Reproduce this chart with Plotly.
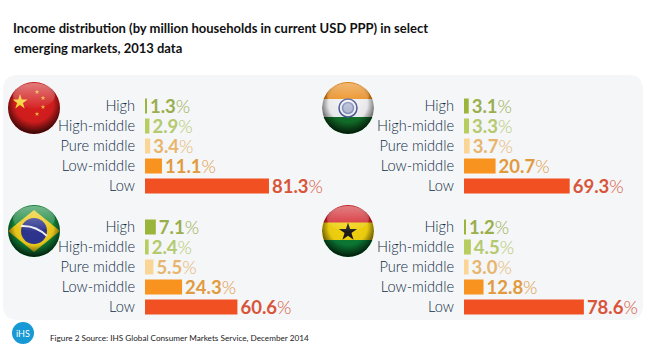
import base64, math
import plotly.graph_objects as go

W, H = 649, 364

# ---- data ----
categories = ["High", "High-middle", "Pure middle", "Low-middle", "Low"]
china = [1.3, 2.9, 3.4, 11.1, 81.3]
india = [3.1, 3.3, 3.7, 20.7, 69.3]
brazil = [7.1, 2.4, 5.5, 24.3, 60.6]
ghana = [1.2, 4.5, 3.0, 12.8, 78.6]
title_line1 = "Income distribution (by million households in current USD PPP) in select"
title_line2 = "emerging markets, 2013 data"
source_text = "Figure 2 Source: IHS Global Consumer Markets Service, December 2014"

bar_colors = ["#9bb53a", "#b7cd5f", "#fbd596", "#f7931e", "#f15022"]
text_colors = ["#9aae4c", "#b5c96e", "#e8b56e", "#e29a3f", "#d9553a"]
LABEL_FONT = "Lato"


def px(x):
    return x / W


def py(y):
    return 1 - y / H


def star(cx, cy, r, rot=-90):
    pts = []
    for i in range(10):
        rr = r if i % 2 == 0 else r * 0.382
        a = math.radians(rot + i * 36)
        pts.append(f"{cx + rr * math.cos(a):.2f},{cy + rr * math.sin(a):.2f}")
    return " ".join(pts)


def flag_svg(body):
    svg = f'''<svg xmlns="http://www.w3.org/2000/svg" width="104" height="104" viewBox="0 0 104 104">
<defs>
<clipPath id="c"><circle cx="52" cy="52" r="52"/></clipPath>
<radialGradient id="shade" cx="50%" cy="40%" r="62%">
<stop offset="0" stop-color="#000" stop-opacity="0"/>
<stop offset="0.6" stop-color="#000" stop-opacity="0.05"/>
<stop offset="1" stop-color="#000" stop-opacity="0.85"/>
</radialGradient>
<linearGradient id="gloss" x1="0" y1="0" x2="0" y2="1">
<stop offset="0" stop-color="#fff" stop-opacity="0.42"/>
<stop offset="1" stop-color="#fff" stop-opacity="0.03"/>
</linearGradient>
</defs>
<g clip-path="url(#c)">{body}
<circle cx="52" cy="52" r="52" fill="url(#shade)"/>
<ellipse cx="52" cy="27" rx="42" ry="25" fill="url(#gloss)"/>
</g></svg>'''
    return "data:image/svg+xml;base64," + base64.b64encode(svg.encode()).decode()


china_flag = flag_svg(
    '<rect width="104" height="104" fill="#d81e1e"/>'
    f'<polygon points="{star(24, 40, 16)}" fill="#ffd83a"/>'
    f'<polygon points="{star(58, 20, 5)}" fill="#f0b83a"/>'
    f'<polygon points="{star(70, 32, 5)}" fill="#f0b83a"/>'
    f'<polygon points="{star(70, 50, 5)}" fill="#f0b83a"/>'
    f'<polygon points="{star(58, 64, 5)}" fill="#f0b83a"/>'
)
india_flag = flag_svg(
    '<rect width="104" height="36" fill="#f08a10"/>'
    '<rect y="34" width="104" height="36" fill="#f4f4f6"/>'
    '<rect y="70" width="104" height="34" fill="#12702a"/>'
    '<circle cx="52" cy="52" r="18" fill="none" stroke="#4a5c9a" stroke-width="3"/>'
    '<circle cx="52" cy="52" r="11" fill="#b8bfd8" stroke="#8a94bd" stroke-width="3"/>'
)
brazil_flag = flag_svg(
    '<rect width="104" height="104" fill="#138a3c"/>'
    '<polygon points="52,10 104,52 52,94 0,52" fill="#f2cf1c"/>'
    '<circle cx="52" cy="52" r="26" fill="#2d3590"/>'
    '<path d="M26 42 Q55 40 78 62" fill="none" stroke="#f2f2f2" stroke-width="4"/>'
)
ghana_flag = flag_svg(
    '<rect width="104" height="36" fill="#d8232a"/>'
    '<rect y="35" width="104" height="35" fill="#f4d40f"/>'
    '<rect y="70" width="104" height="34" fill="#0b7a34"/>'
    f'<polygon points="{star(52, 54, 19)}" fill="#1a1a1a"/>'
)

panels = [
    ("x", "y", china, 145, 96),
    ("x2", "y2", india, 464, 96),
    ("x3", "y3", brazil, 145, 217),
    ("x4", "y4", ghana, 464, 217),
]
PX_PER_UNIT = 1.525
X_MAX = 100

fig = go.Figure()
layout_axes = {}
for xa, ya, values, left, top in panels:
    fig.add_trace(go.Bar(
        x=values, y=categories, orientation="h", xaxis=xa, yaxis=ya,
        marker=dict(color=bar_colors, line=dict(width=0)),
        text=[f"<b>{v:.1f}</b>%" for v in values],
        textposition="outside", constraintext="none", cliponaxis=False,
        textfont=dict(family=LABEL_FONT, size=18.5, color=text_colors, weight=300),
        hoverinfo="skip", showlegend=False,
    ))
    xname = "xaxis" + xa[1:]
    yname = "yaxis" + ya[1:]
    layout_axes[xname] = dict(
        domain=[px(left), px(left + PX_PER_UNIT * X_MAX)], range=[0, X_MAX],
        anchor=ya, visible=False, fixedrange=True,
    )
    layout_axes[yname] = dict(
        domain=[py(top + 100), py(top)], anchor=xa, autorange="reversed",
        type="category", categoryorder="array", categoryarray=categories,
        showgrid=False, zeroline=False, showline=False, ticks="",
        ticklabelstandoff=9, fixedrange=True,
        tickfont=dict(family=LABEL_FONT, size=14.6, color="#122c46", weight=300),
    )

images = [
    dict(source=src, xref="paper", yref="paper", x=px(cx - 26), y=py(cy - 26),
         sizex=52 / W, sizey=52 / H, xanchor="left", yanchor="top",
         sizing="stretch", layer="above")
    for src, cx, cy in [(china_flag, 34, 108), (india_flag, 348, 108),
                        (brazil_flag, 34, 231), (ghana_flag, 348, 231)]
]

x0, x1, y0, y1, r = px(3), px(643), py(75), py(320), 15
rx, ry = r / W, r / H
panel_path = (f"M {x0+rx} {y0} L {x1-rx} {y0} Q {x1} {y0} {x1} {y0-ry} "
              f"L {x1} {y1+ry} Q {x1} {y1} {x1-rx} {y1} "
              f"L {x0+rx} {y1} Q {x0} {y1} {x0} {y1+ry} "
              f"L {x0} {y0-ry} Q {x0} {y0} {x0+rx} {y0} Z")

fig.update_layout(
    width=W, height=H, autosize=False,
    margin=dict(l=0, r=0, t=0, b=0),
    paper_bgcolor="#ffffff", plot_bgcolor="rgba(0,0,0,0)",
    bargap=0.25,
    title=dict(
        text=title_line1, x=px(13), xanchor="left", xref="paper",
        y=py(28), yref="paper", yanchor="middle",
        font=dict(family="Lato", size=13, color="#111111", weight=700),
    ),
    shapes=[
        dict(type="path", path=panel_path, xref="paper", yref="paper",
             fillcolor="#f4f6f7", line=dict(width=0), layer="below"),
        dict(type="circle", xref="paper", yref="paper",
             x0=px(12), x1=px(34), y0=py(344), y1=py(322),
             fillcolor="#1699d5", line=dict(width=0), layer="below"),
    ],
    images=images,
    annotations=[
        dict(text=f"<b>{title_line2}</b>", xref="paper", yref="paper", x=px(13), y=py(48),
             xanchor="left", yanchor="middle", xshift=-1, showarrow=False,
             font=dict(family="Lato", size=13, color="#111111")),
        dict(text="iHS", xref="paper", yref="paper", x=px(23), y=py(333),
             xanchor="center", yanchor="middle", showarrow=False,
             font=dict(family="Lato", size=9, color="#ffffff")),
        dict(text=source_text, xref="paper", yref="paper", x=px(49), y=py(338),
             xanchor="left", yanchor="middle", xshift=-1, showarrow=False,
             font=dict(family="Lato", size=8.2, color="#222222")),
    ],
    **layout_axes,
)

fig.write_html("out.html", config=dict(displayModeBar=False),
               post_script="document.body.style.margin='0';document.documentElement.style.overflow='hidden';")
